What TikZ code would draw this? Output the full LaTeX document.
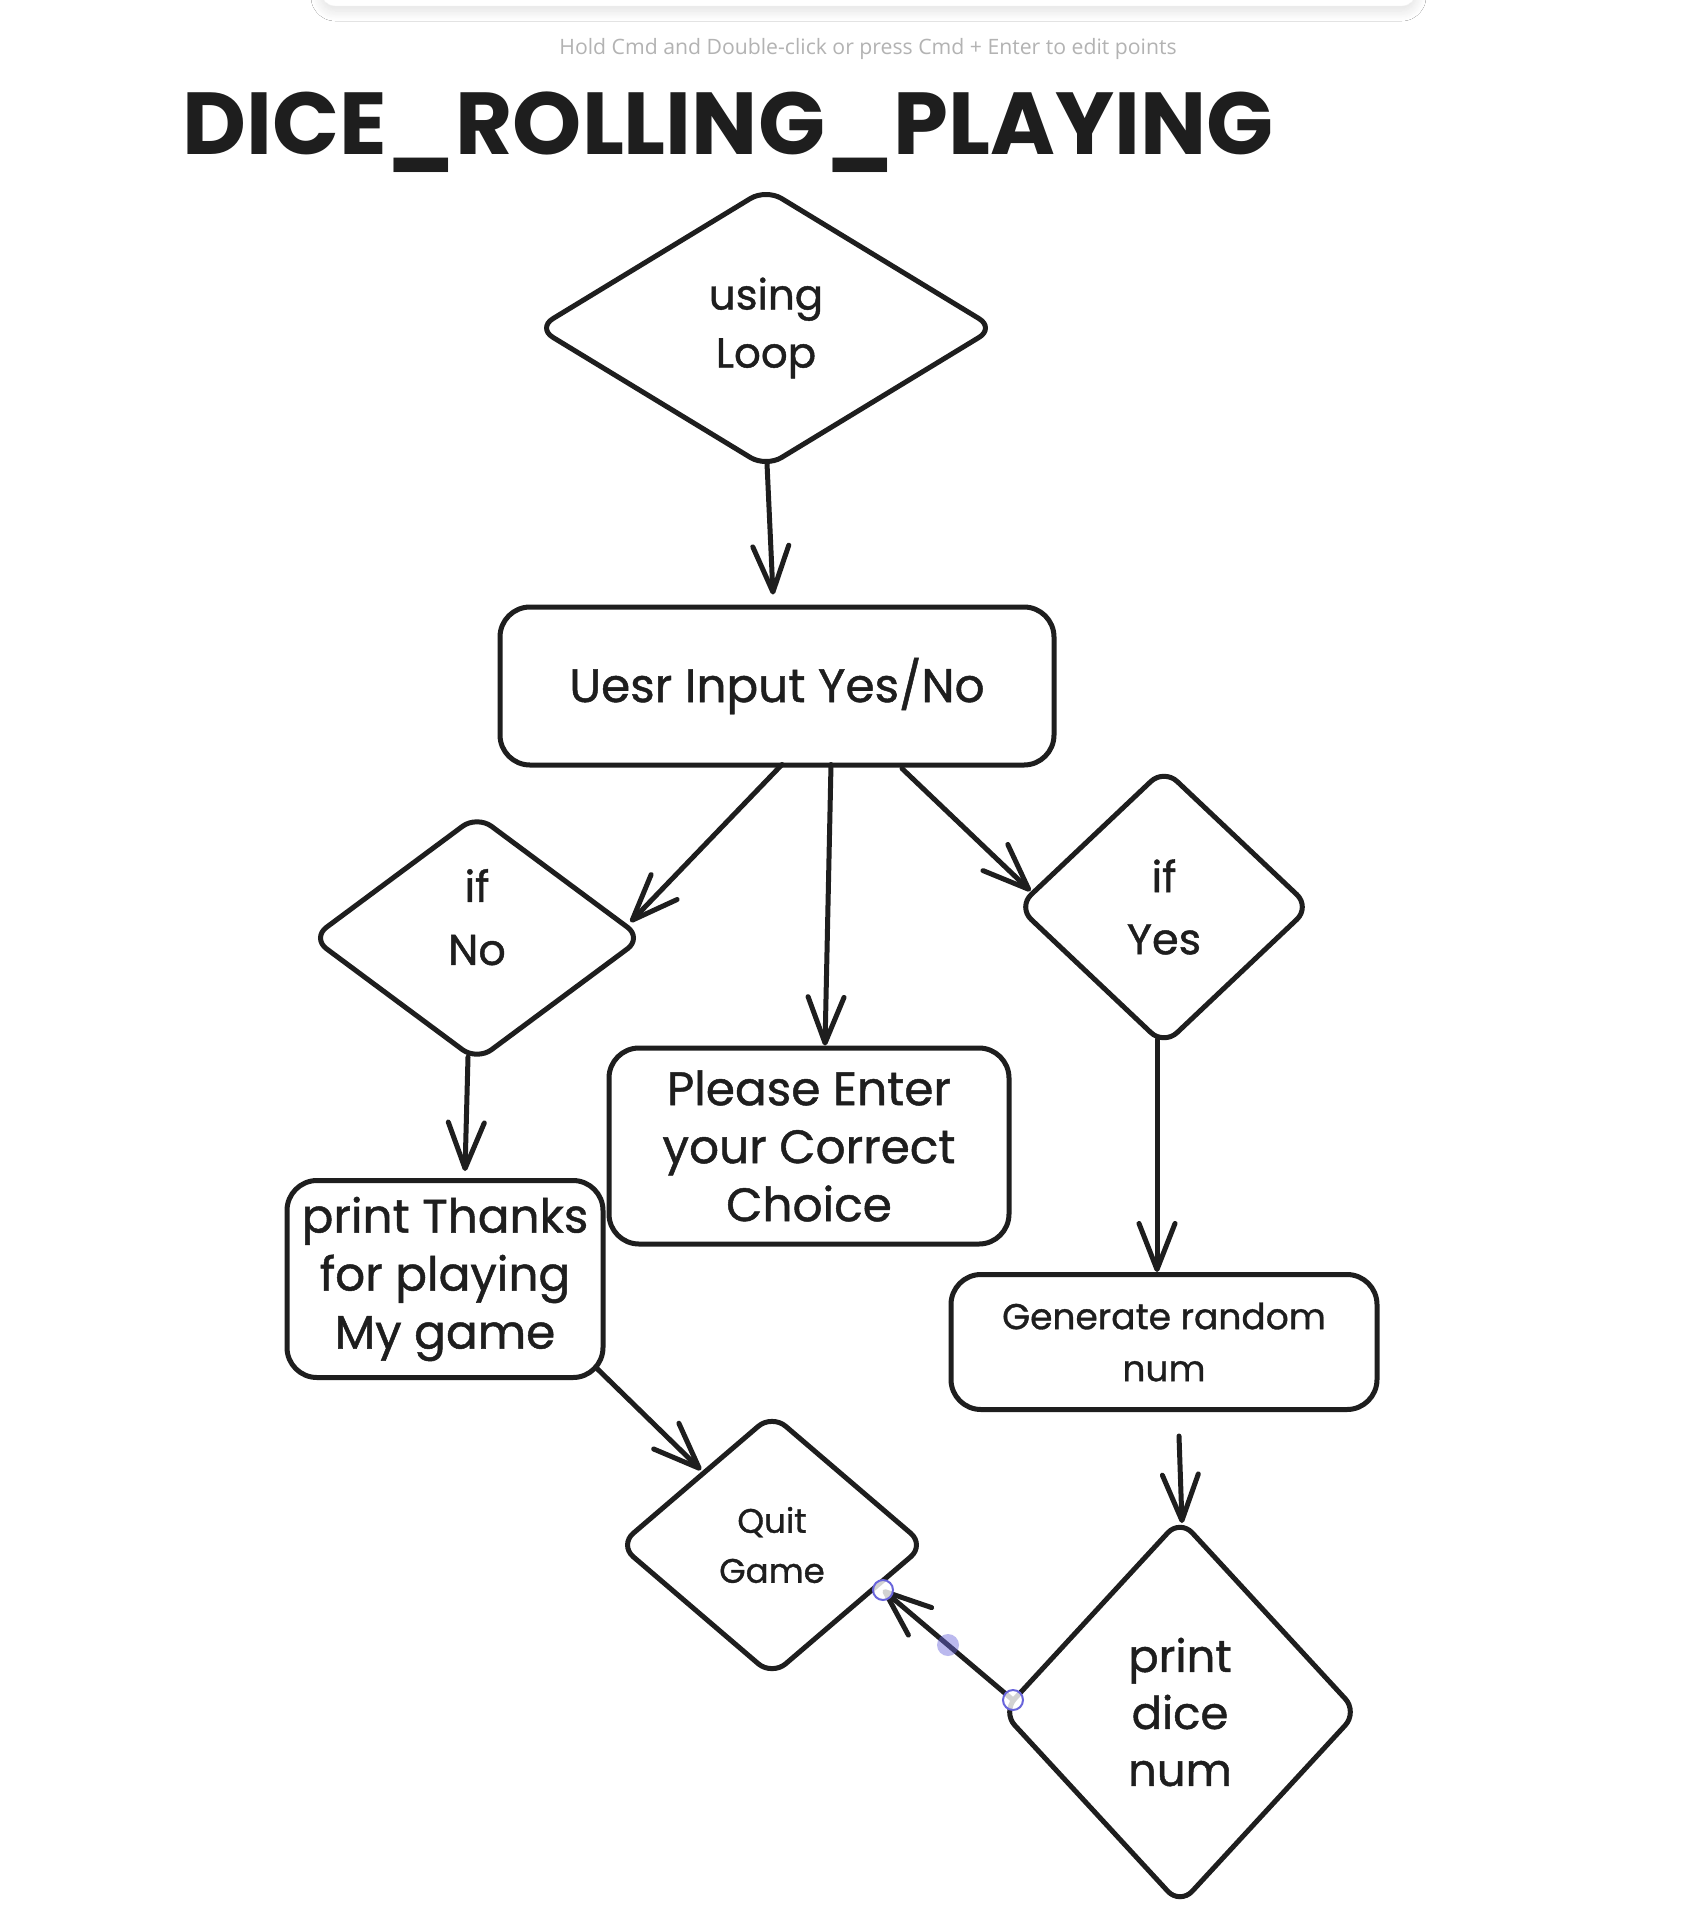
\documentclass[tikz,border=0pt]{standalone}
\usepackage{fontspec}
\setmainfont{Poppins}
\newfontfamily\handfont[FakeBold=1]{Poppins}
\newfontfamily\hintfont{Open Sans}
\usetikzlibrary{arrows.meta,shapes.geometric,calc,shadows.blur}
\definecolor{ink}{HTML}{1E1E1E}
\definecolor{sel}{HTML}{6965DB}
\definecolor{hintgray}{HTML}{B3B3B3}
\begin{document}
\begin{tikzpicture}[x=1pt,y=-1pt,
  every node/.style={inner sep=0pt, text=ink},
  box/.style={draw=ink, line width=5pt, rounded corners=30pt, align=center},
  dia/.style={draw=ink, line width=5pt, shape=diamond, aspect=1, rounded corners=18pt, align=center},
  conn/.style={draw=ink, line width=5pt, line cap=round, line join=round,
    -{Straight Barb[length=46pt,width=36pt,line width=5pt,round]}},
  handle/.style={circle, draw=sel, line width=2pt, fill=white, fill opacity=0.8, minimum size=20pt, inner sep=0pt},
  midhandle/.style={circle, fill=sel, fill opacity=0.45, minimum size=22pt, inner sep=0pt},
  txt/.style n args={2}{font=\handfont\fontsize{#1}{#2}\selectfont}
]
\useasboundingbox (0,0) rectangle (1704,1922);
\fill[white] (0,0) rectangle (1704,1922);

% top toolbar edge
\draw[draw=gray!12, fill=white, rounded corners=14pt,
  blur shadow={shadow xshift=0pt, shadow yshift=-5pt, shadow blur radius=10pt, shadow blur steps=12, shadow opacity=12}]
  (321,-40) rectangle (1416,6);

\node[font=\hintfont\fontsize{21.2}{25}\selectfont, text=hintgray] (hint) at (868,49)
  {Hold Cmd and Double-click or press Cmd + Enter to edit points};

\node[font={\fontsize{88}{96}\selectfont\bfseries}] (title) at (728,132) {DICE\_ROLLING\_PLAYING};

\node[dia, minimum width=459pt, minimum height=280pt, txt={42}{58}] (loop) at (766,328) {using\\Loop};
\node[box, minimum width=554pt, minimum height=158pt, txt={47}{58}] (input) at (777,686) {Uesr Input Yes/No};
\node[dia, minimum width=332pt, minimum height=247pt, txt={43}{63}, text depth=42pt] (ifno) at (477,938) {if\\No};
\node[dia, minimum width=294pt, minimum height=278pt, txt={43}{62}] (ifyes) at (1164,907) {if\\Yes};
\node[box, minimum width=400pt, minimum height=196pt, txt={47}{58}] (please) at (809,1146) {Please Enter\\your Correct\\Choice};
\node[box, minimum width=316pt, minimum height=197pt, txt={47}{58}] (thanks) at (445,1279) {print Thanks\\for playing\\My game};
\node[box, minimum width=426pt, minimum height=135pt, txt={36}{52}] (gen) at (1164,1342) {Generate random\\num};
\node[dia, minimum width=307pt, minimum height=263pt, txt={34}{50}] (quit) at (772,1545) {Quit\\Game};
\node[dia, minimum width=357pt, minimum height=387pt, txt={45}{57}] (dice) at (1180,1712) {print\\dice\\num};

\draw[conn] ($(loop.south)+(1,-7)$) -- ($(input.north)+(-4,-10)$);
\draw[conn] ($(input.south)+(5,-3)$) -- ($(ifno.east)+(-15,-16)$);
\draw[conn] ($(input.south)+(54,-3)$) -- ($(please.north)+(16,0)$);
\draw[conn] ($(input.south)+(125,1)$) -- ($(ifyes.west)+(16,-16)$);
\draw[conn] ($(ifno.south)+(-9,-7)$) -- ($(thanks.north)+(20,-7)$);
\draw[conn] ($(ifyes.south)+(-7,-9)$) -- ($(gen.north)+(-7,0)$);
\draw[conn] ($(gen.south)+(15,24)$) -- ($(dice.north)+(2,7)$);
\draw[conn] ($(thanks.south east)+(-8,-11)$) -- ($(quit.north west)+(7,-8)$);
\draw[conn] ($(dice.west)+(14,-12)$) coordinate (hA) -- ($(quit.east)+(-45,45)$) coordinate (hB);

\node[midhandle] (hmid) at ($(hA)!0.5!(hB)$) {};
\node[handle] (hstart) at (hA) {};
\node[handle] (hend) at (hB) {};
\end{tikzpicture}
\end{document}
